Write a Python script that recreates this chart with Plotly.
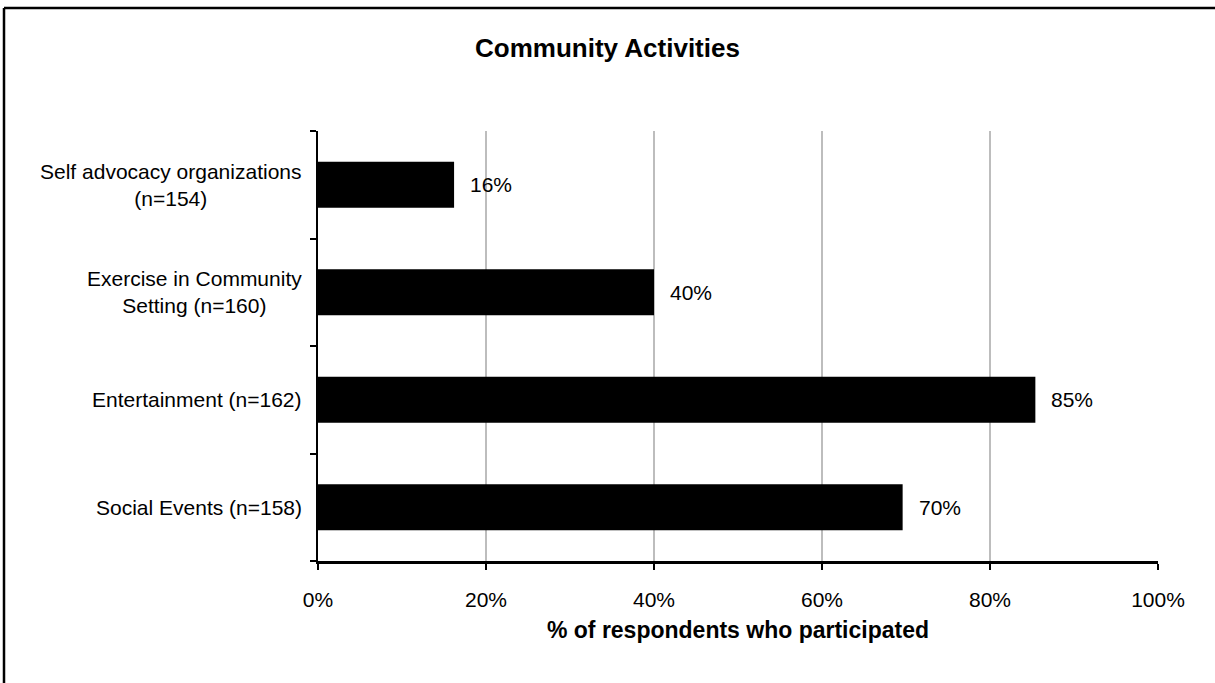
import plotly.graph_objects as go

# Survey categories, listed bottom to top
categories = [
    "Social Events",
    "Entertainment",
    "Exercise in Community Setting",
    "Self advocacy organizations",
]
category_labels = [
    "Social Events (n=158)",
    "Entertainment (n=162)",
    "Exercise in Community<br>Setting (n=160)",
    "Self advocacy organizations<br>(n=154)",
]
# Share of respondents who participated
participation = [0.696, 0.854, 0.40, 0.162]

x_ticks = [0, 0.2, 0.4, 0.6, 0.8, 1.0]

FONT = "Liberation Sans, Arial, sans-serif"

fig = go.Figure()
fig.add_trace(
    go.Bar(
        x=participation,
        y=categories,
        orientation="h",
        marker=dict(color="#000000", line=dict(width=0)),
        hoverinfo="skip",
    )
)

annotations = []
# Value labels to the right of each bar
for cat, val in zip(categories, participation):
    annotations.append(
        dict(
            x=val, y=cat, xref="x", yref="y",
            text=f"{val:.0%}", showarrow=False,
            xanchor="left", yanchor="middle", xshift=14,
            font=dict(family=FONT, size=21, color="#000000"),
        )
    )
# Category labels, centred line by line
for cat, lab in zip(categories, category_labels):
    annotations.append(
        dict(
            x=0, y=cat, xref="paper", yref="y",
            text=lab, showarrow=False, align="center",
            xanchor="right", yanchor="middle", xshift=-14,
            font=dict(family=FONT, size=21, color="#000000"),
        )
    )

# Chart frame (top and left edges)
FRAME_X = (4 - 318) / 840
FRAME_Y = (561 - 8) / 430
shapes = [
    dict(type="line", xref="paper", yref="paper",
         x0=FRAME_X, x1=1.2, y0=FRAME_Y, y1=FRAME_Y,
         line=dict(color="#000000", width=2.5)),
    dict(type="line", xref="paper", yref="paper",
         x0=FRAME_X, x1=FRAME_X, y0=-0.4, y1=FRAME_Y,
         line=dict(color="#000000", width=2.5)),
]

fig.update_layout(
    width=1215,
    height=683,
    margin=dict(l=318, r=57, t=131, b=122),
    paper_bgcolor="#ffffff",
    plot_bgcolor="#ffffff",
    showlegend=False,
    bargap=0.57,
    title=dict(
        text="<b>Community Activities</b>",
        x=0.5, xref="container", xanchor="center",
        y=1 - 48 / 683, yref="container", yanchor="middle",
        font=dict(family=FONT, size=26, color="#000000"),
    ),
    xaxis=dict(
        range=[0, 1],
        tickvals=x_ticks,
        tickformat=".0%",
        showgrid=True,
        gridcolor="#bdbdbd",
        gridwidth=1.5,
        zeroline=False,
        showline=True,
        linecolor="#000000",
        linewidth=2.5,
        ticks="outside",
        ticklen=6,
        tickwidth=1.5,
        tickcolor="#000000",
        ticklabelstandoff=12,
        tickfont=dict(family=FONT, size=21, color="#000000"),
        title=dict(
            text="<b>% of respondents who participated</b>",
            font=dict(family=FONT, size=23, color="#000000"),
            standoff=12,
        ),
        fixedrange=True,
    ),
    yaxis=dict(
        categoryorder="array",
        categoryarray=categories,
        showgrid=False,
        zeroline=False,
        showline=True,
        linecolor="#000000",
        linewidth=2,
        ticks="outside",
        tickson="boundaries",
        ticklen=6,
        tickwidth=1.5,
        tickcolor="#000000",
        showticklabels=False,
        fixedrange=True,
    ),
    annotations=annotations,
    shapes=shapes,
)

fig.write_html("out.html", config={"displayModeBar": False})
